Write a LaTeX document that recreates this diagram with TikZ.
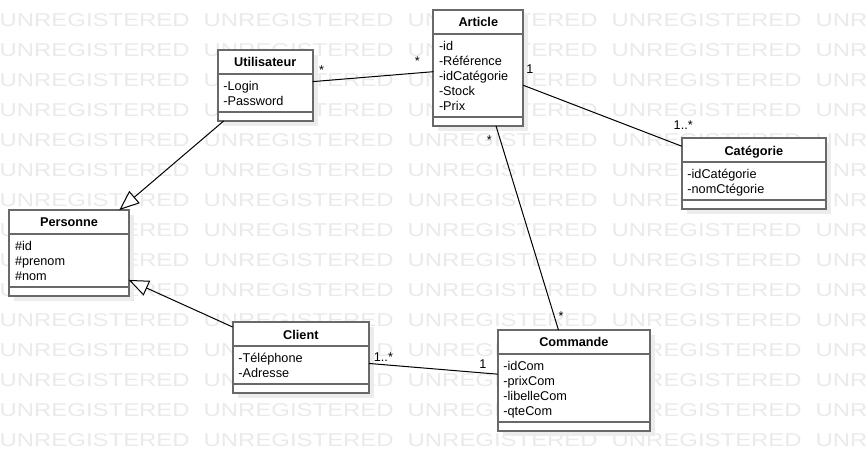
\documentclass[tikz,border=0pt]{standalone}
\usepackage{fontspec}
\setmainfont{Liberation Sans}
\usepackage{graphicx}
\usetikzlibrary{arrows.meta,shadows,calc}
\definecolor{boxgray}{RGB}{105,105,105}
\definecolor{wmcol}{RGB}{234,234,234}
\definecolor{shadecol}{RGB}{236,236,236}
\newcommand\umlclass[7]{%
  \node[classbox, minimum width=#4pt, minimum height=#5pt] (#1) at (#2,#3) {};
  \draw[divline] ($(#1.north west)+(0,24)$) -- ($(#1.north east)+(0,24)$);
  \draw[divline] ($(#1.south west)+(0,-9)$) -- ($(#1.south east)+(0,-9)$);
  \node[hdr] (#1-h) at ($(#1.north)+(0,16.7)$) {#6};
  \foreach \t [count=\i] in {#7} \node[attr] (#1-\i) at ($(#1.north west)+(5.5,25+15*\i)$) {\t};
}
\begin{document}
\begin{tikzpicture}[x=1pt,y=-1pt,
  classbox/.style={draw=boxgray, line width=2pt, fill=white, rectangle, anchor=north west,
    inner sep=0pt, outer sep=0pt,
    drop shadow={shadow xshift=5pt, shadow yshift=-5pt, fill=shadecol, draw=none, opacity=1}},
  divline/.style={draw=boxgray, line width=2pt},
  hdr/.style={anchor=base, inner sep=0pt, font=\bfseries\fontsize{12.7}{15}\selectfont},
  attr/.style={anchor=base west, inner sep=0pt, font=\fontsize{12.7}{15}\selectfont},
  lab/.style={inner sep=0pt, font=\fontsize{12.7}{15}\selectfont},
  assoc/.style={draw=black, line width=1pt},
  gen/.style={draw=black, line width=1pt, -{Triangle[open, fill=white, length=20pt, width=16pt]}},
  wmk/.style={anchor=base west, inner sep=0pt, text=wmcol, font=\fontsize{18.6}{20}\selectfont}
]
\useasboundingbox (0,0) rectangle (866,474);
\fill[white] (0,0) rectangle (866,474);
\begin{scope}
  \clip (0,0) rectangle (866,474);
  \foreach \r in {0,...,14}
    \foreach \c in {0,...,4}
      \node[wmk] (wm-\r-\c) at (-0.5+204*\c, 26.7+30*\r) {\resizebox{190pt}{\height}{UNREGISTERED}};
\end{scope}

\umlclass{util}{217.7}{50}{95}{71}{Utilisateur}{-Login,-Password}
\umlclass{art}{433.3}{10}{90}{116}{Article}{-id,-Référence,-idCatégorie,-Stock,-Prix}
\umlclass{pers}{9.3}{210}{119.4}{86}{Personne}{\#id,\#prenom,\#nom}
\umlclass{cli}{232.7}{322.3}{136.3}{71}{Client}{-Téléphone,-Adresse}
\umlclass{cmd}{497.7}{330}{152.3}{101}{Commande}{-idCom,-prixCom,-libelleCom,-qteCom}
\umlclass{cat}{681.7}{138.3}{144.3}{71}{Catégorie}{-idCatégorie,-nomCtégorie}

\draw[assoc] (util) -- (art);
\draw[assoc] (art) -- (cat);
\draw[assoc] (art) -- (cmd);
\draw[assoc] (cli) -- (cmd);
\draw[gen] (util) -- (pers);
\draw[gen] (cli) -- (pers);

\node[lab, anchor=base] (m1) at (321.7,74.1) {*};
\node[lab, anchor=base] (m2) at (417.3,65.7) {*};
\node[lab, anchor=base] (m3) at (530,73.3) {1};
\node[lab, anchor=base west] (m4) at (673.5,129) {1..*};
\node[lab, anchor=base] (m5) at (489.3,144) {*};
\node[lab, anchor=base] (m6) at (561,320.7) {*};
\node[lab, anchor=base west] (m7) at (373.7,361.7) {1..*};
\node[lab, anchor=base] (m8) at (482.8,368.3) {1};
\end{tikzpicture}
\end{document}
